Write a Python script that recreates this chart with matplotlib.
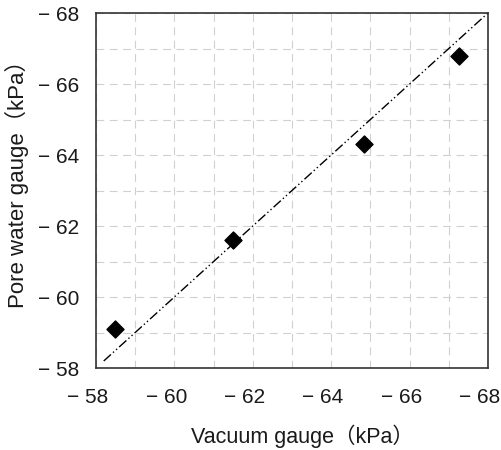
import matplotlib
matplotlib.use("Agg")
import matplotlib.pyplot as plt
from matplotlib.ticker import MultipleLocator, FuncFormatter
from matplotlib.transforms import ScaledTranslation

plt.rcParams['font.family'] = ['Liberation Sans', 'Noto Sans CJK JP', 'DejaVu Sans']

# magnitudes of the (negative) pressures, kPa
vacuum = [58.5, 61.5, 64.85, 67.25]
pore_water = [59.1, 61.6, 64.3, 66.8]
line_range = [58.2, 68.0]

fig = plt.figure(figsize=(5.02, 4.5), dpi=100)
ax = fig.add_axes([0.191, 0.182, 0.781, 0.789])

ax.plot(line_range, line_range, color='black', lw=1.0,
        dashes=[7, 2, 1, 2, 1, 2])
ax.scatter(vacuum, pore_water, marker='D', s=75, color='black', zorder=3)

ax.set_xlim(58, 68)
ax.set_ylim(58, 68)
for axis in (ax.xaxis, ax.yaxis):
    axis.set_major_locator(MultipleLocator(2))
    axis.set_minor_locator(MultipleLocator(1))
    axis.set_major_formatter(FuncFormatter(lambda v, p: "\u2212 %d" % v))
ax.grid(True, which='both', color='#d0d0d0', lw=0.8, ls=(0, (7, 5)))
ax.set_axisbelow(True)
ax.tick_params(which='both', length=0, labelsize=15, colors='#1a1a1a')
ax.tick_params(axis='x', pad=14)
ax.tick_params(axis='y', pad=12)
# x tick labels sit a little left of their ticks in the original
shift = ScaledTranslation(-8 / 100, 0, fig.dpi_scale_trans)
for lbl in ax.get_xticklabels():
    lbl.set_transform(lbl.get_transform() + shift)
for s in ax.spines.values():
    s.set_color('#333333')
    s.set_linewidth(1.2)

ax.set_xlabel("Vacuum gauge（kPa）", fontsize=15.5, color='#1a1a1a')
ax.set_ylabel("Pore water gauge（kPa）", fontsize=16, color='#1a1a1a')
ax.xaxis.set_label_coords(0.528, -0.158)
ax.yaxis.set_label_coords(-0.170, 0.535)

fig.savefig("out.png", dpi=100)
